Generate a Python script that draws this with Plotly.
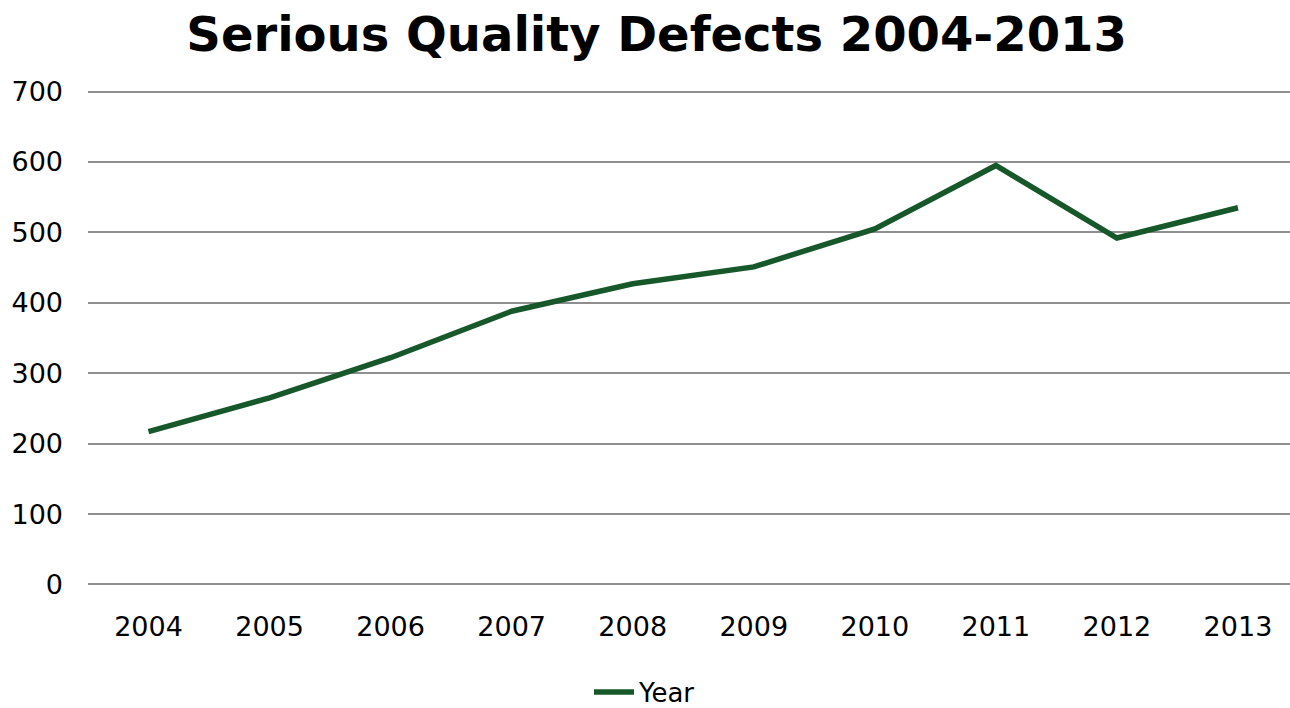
import plotly.graph_objects as go

years = ["2004", "2005", "2006", "2007", "2008", "2009", "2010", "2011", "2012", "2013"]
defects = [217, 265, 322, 388, 427, 451, 505, 595, 492, 535]
y_ticks = [0, 100, 200, 300, 400, 500, 600, 700]

fig = go.Figure()
fig.add_trace(go.Scatter(
    x=years, y=defects, mode="lines", name="Year",
    line=dict(color="#17582B", width=5.5),
))

fig.update_layout(
    width=1290, height=708,
    margin=dict(l=88, r=0, t=88, b=120),
    paper_bgcolor="white", plot_bgcolor="white",
    font=dict(family="DejaVu Sans", size=26, color="#000000"),
    title=dict(
        text="<b>Serious Quality Defects 2004-2013</b>",
        font=dict(family="DejaVu Sans", size=48, color="#000000"),
        x=0.509, xanchor="center", xref="container",
        y=1 - 34 / 708, yanchor="middle", yref="container",
    ),
    showlegend=True,
    legend=dict(
        orientation="h", x=0.5, xanchor="center", xref="container",
        y=1 - 692 / 708, yanchor="middle", yref="container",
        font=dict(size=26), itemwidth=40,
    ),
    xaxis=dict(
        type="category", range=[-0.5, 9.43],
        showgrid=False, showline=False, zeroline=False,
        ticks="", ticklabelstandoff=20,
        tickfont=dict(size=27),
    ),
    yaxis=dict(
        range=[-5, 705], tickvals=y_ticks,
        showgrid=True, gridcolor="#8F8F8F", gridwidth=2,
        zeroline=False, showline=False, ticks="",
        ticklabelstandoff=24, tickfont=dict(size=27),
    ),
)

fig.write_html("out.html")
